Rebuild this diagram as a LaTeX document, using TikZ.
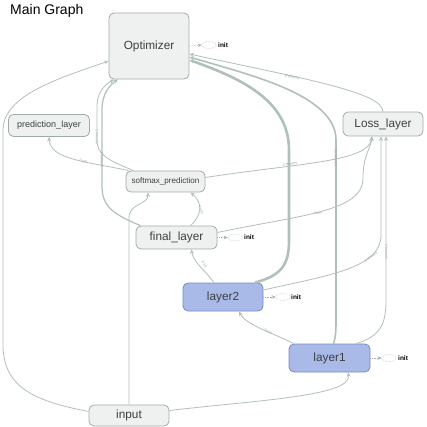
\documentclass[tikz,border=0pt]{standalone}
\usepackage{fontspec}
\setmainfont{Liberation Sans}
\usetikzlibrary{arrows.meta,shapes.geometric}
\definecolor{edgecol}{RGB}{176,192,187}
\definecolor{nodefill}{RGB}{238,241,240}
\definecolor{nodedraw}{RGB}{160,172,168}
\definecolor{bluefill}{RGB}{170,186,232}
\definecolor{bluedraw}{RGB}{118,138,196}
\definecolor{txtcol}{RGB}{60,64,63}
\definecolor{lblcol}{RGB}{150,165,160}
\tikzset{
  opnode/.style={draw=nodedraw, fill=nodefill, line width=0.8pt, rounded corners=5pt,
    inner sep=0pt, text=txtcol, font=\fontsize{11.8}{12}\selectfont},
  bluenode/.style={opnode, draw=bluedraw, fill=bluefill},
  edge/.style={draw=edgecol, line width=0.8pt, -{Stealth[length=4.5pt,width=4pt]}},
  initarrow/.style={draw=edgecol!80!gray, line width=0.6pt, densely dotted, -{Stealth[length=4pt,width=3.5pt]}},
  initell/.style={ellipse, draw=edgecol, densely dotted, line width=0.5pt, minimum width=14pt, minimum height=7pt, inner sep=0pt},
  inittxt/.style={font=\bfseries\fontsize{6.5}{7}\selectfont, text=black, inner sep=0pt, anchor=west},
  elabel/.style={font=\fontsize{3.5}{4}\selectfont, text=lblcol, inner sep=0.3pt}
}
\begin{document}
\begin{tikzpicture}[x=1pt,y=-1pt]
\useasboundingbox (0,0) rectangle (427,427);
\node[anchor=base west, inner sep=0pt, font=\fontsize{14}{16}\selectfont] (title) at (10,15) {Main Graph};

% nodes
\node[opnode, minimum width=80pt, minimum height=66pt] (opt) at (149,46) {Optimizer};
\node[opnode, minimum width=81pt, minimum height=22pt, font=\fontsize{9}{10}\selectfont] (pred) at (49,125.5) {prediction\_layer};
\node[opnode, minimum width=80pt, minimum height=24pt] (loss) at (383,124) {Loss\_layer};
\node[opnode, minimum width=79pt, minimum height=21pt, font=\fontsize{8.1}{9}\selectfont] (soft) at (165.5,181.5) {softmax\_prediction};
\node[opnode, minimum width=81pt, minimum height=23pt] (fin) at (176.5,237.5) {final\_layer};
\node[bluenode, minimum width=80pt, minimum height=28pt] (l2) at (223,297) {layer2};
\node[bluenode, minimum width=81pt, minimum height=28pt] (l1) at (329.5,358) {layer1};
\node[opnode, minimum width=80pt, minimum height=21pt] (inp) at (129,415.5) {input};

% init markers
\node[initell] (oi) at (209,45) {};
\node[inittxt] (ot) at (218,45) {init};
\draw[initarrow] (opt.east) -- (oi.west);
\node[initell] (fi) at (235,237.5) {};
\node[inittxt] (ft) at (244,237.5) {init};
\draw[initarrow] (fin.east) -- (fi.west);
\node[initell] (l2i) at (283,297) {};
\node[inittxt] (l2t) at (291,297) {init};
\draw[initarrow] (l2.east) -- (l2i.west);
\node[initell] (l1i) at (389,358) {};
\node[inittxt] (l1t) at (398,358) {init};
\draw[initarrow] (l1.east) -- (l1i.west);

% edges
\draw[edge] ([yshift=4pt]inp.west) .. controls (40,402) and (3,390) .. (3,345) -- (3,130) .. controls (3,95) and (60,78) .. ([yshift=-15pt]opt.west);
\draw[edge] (inp.north) -- (129,218) .. controls (129,203) and (148,205) .. ([xshift=-17.5pt]soft.south);
\draw[edge] ([yshift=5pt]inp.east) .. controls (260,400) and (352,396) .. ([xshift=18.5pt]l1.south);
\draw[edge] ([xshift=-35.5pt]l1.north) .. controls (270,332) and (245,324) .. ([xshift=16pt]l2.south);
\draw[edge, line width=1.6pt] ([xshift=4pt]l1.north) .. controls (336,336) and (336,330) .. (336,318) -- (336,140) .. controls (336,95) and (250,75) .. ([yshift=-11pt]opt.east);
\draw[edge, line width=2.6pt] ([xshift=32pt]l2.north) .. controls (284,275) and (289,262) .. (289,240) -- (289,150) .. controls (289,100) and (240,78) .. ([yshift=-14pt]opt.east);
\draw[edge] ([xshift=-9pt]l2.north) .. controls (205,270) and (193,262) .. ([xshift=15pt]fin.south);
\draw[edge] ([yshift=7pt]l2.east) .. controls (330,275) and (381,268) .. (381,235) -- ([xshift=-2pt]loss.south);
\draw[edge] ([xshift=27pt]l1.north) .. controls (380,336) and (386,325) .. (386,300) -- ([xshift=3pt]loss.south);
\draw[edge] ([xshift=14pt]fin.north) .. controls (202,215) and (203,203) .. ([xshift=25pt]soft.south);
\draw[edge, line width=1.2pt] ([xshift=-36pt]fin.north) .. controls (110,213) and (102,205) .. (102,185) -- (102,110) .. controls (102,93) and (110,85) .. ([xshift=-31pt]opt.south);
\draw[edge] ([xshift=-32pt]soft.north) .. controls (108,160) and (97,155) .. (97,140) -- (97,105) .. controls (97,92) and (106,84) .. ([xshift=-35pt]opt.south);
\draw[edge] ([xshift=-37pt]soft.north) .. controls (90,162) and (50,160) .. (pred.south);
\draw[edge] ([yshift=4pt]soft.east) .. controls (300,163) and (368,162) .. ([xshift=-11pt]loss.south);
\draw[edge] ([yshift=5pt]fin.east) .. controls (300,215) and (363,212) .. (363,178) .. controls (363,155) and (371,148) .. ([xshift=-11pt]loss.south);
\draw[edge] (loss.north) .. controls (383,92) and (300,78) .. ([yshift=-8pt]opt.east);

% edge labels
\node[elabel, rotate=-12] (lg) at (292,77) {gradients};
\node[elabel, rotate=-90] (l11) at (336,158) {11 tensors};
\node[elabel, rotate=8] (lsl) at (290,164) {2 tensors};
\node[elabel, rotate=-90] (l1l) at (386.5,252) {2 tensors};
\node[elabel, rotate=35] (l2l) at (371,257) {2 tensors};
\node[elabel, rotate=10] (lfl) at (318,213) {Sum};
\node[elabel, rotate=-90] (lso) at (97,137) {1 tensors};
\node[elabel, rotate=-90] (lfo) at (102,160) {6 tensors};
\node[elabel, rotate=-20] (lsp) at (83,161) {?×10};
\node[elabel, rotate=-30] (l12) at (268,331) {?×10};
\node[elabel, rotate=-60] (l2f) at (204,264) {?×10};
\node[elabel, rotate=-70] (lfs) at (201,210) {?×10};
\end{tikzpicture}
\end{document}
